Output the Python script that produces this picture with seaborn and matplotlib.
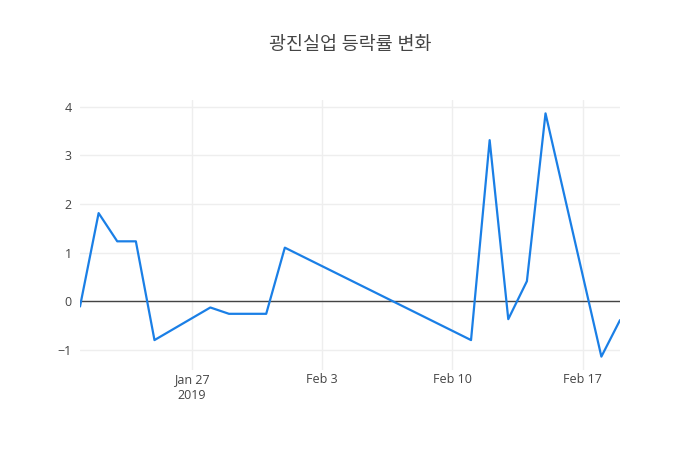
import pandas as pd
import matplotlib
matplotlib.use('Agg')
import matplotlib.pyplot as plt
import seaborn as sns

# daily change rate (%)
dates = ['2019-01-21', '2019-01-22', '2019-01-23', '2019-01-24', '2019-01-25',
         '2019-01-28', '2019-01-29', '2019-01-30', '2019-01-31', '2019-02-01',
         '2019-02-11', '2019-02-12', '2019-02-13', '2019-02-14', '2019-02-15',
         '2019-02-18', '2019-02-19']
rates = [-0.11, 1.81, 1.23, 1.23, -0.80,
         -0.13, -0.26, -0.26, -0.26, 1.10,
         -0.80, 3.31, -0.37, 0.41, 3.86,
         -1.14, -0.39]

tick_dates = ['2019-01-27', '2019-02-03', '2019-02-10', '2019-02-17']
tick_labels = ['Jan 27\n2019', 'Feb 3', 'Feb 10', 'Feb 17']
y_ticks = [-1, 0, 1, 2, 3, 4]

df = pd.DataFrame({'date': pd.to_datetime(dates), 'rate': rates})

sns.set_style('white')
plt.rcParams['font.family'] = ['Open Sans', 'Noto Sans CJK KR', 'DejaVu Sans']

fig = plt.figure(figsize=(7, 4.5), dpi=100)
ax = fig.add_axes([80 / 700, 80 / 450, 540 / 700, 270 / 450])

ax.grid(True, color='#eeeeee', linewidth=1)
ax.set_axisbelow(True)
ax.axhline(0, color='#444444', linewidth=1, zorder=2)
sns.lineplot(data=df, x='date', y='rate', ax=ax, color='#1a7fe6', linewidth=1.6, zorder=3)

ax.set_xlim(df['date'].min(), df['date'].max())
lo, hi = min(rates), max(rates)
pad = (hi - lo) * 0.055
ax.set_ylim(lo - pad, hi + pad)

ax.set_xticks(pd.to_datetime(tick_dates))
ax.set_xticklabels(tick_labels, fontsize=9, color='#444444', linespacing=1.3)
ax.set_yticks(y_ticks)
ax.set_yticklabels(['\u2212' + str(-v) if v < 0 else str(v) for v in y_ticks],
                   fontsize=9, color='#444444')
ax.tick_params(axis='x', length=0, pad=2)
ax.tick_params(axis='y', length=0, pad=6)
ax.set_xlabel('')
ax.set_ylabel('')
for s in ax.spines.values():
    s.set_visible(False)

fig.text(0.5, 1 - 45 / 450, '광진실업 등락률 변화', ha='center', va='center',
         fontsize=13.3, color='#444444')

fig.savefig('out.png', dpi=100)
